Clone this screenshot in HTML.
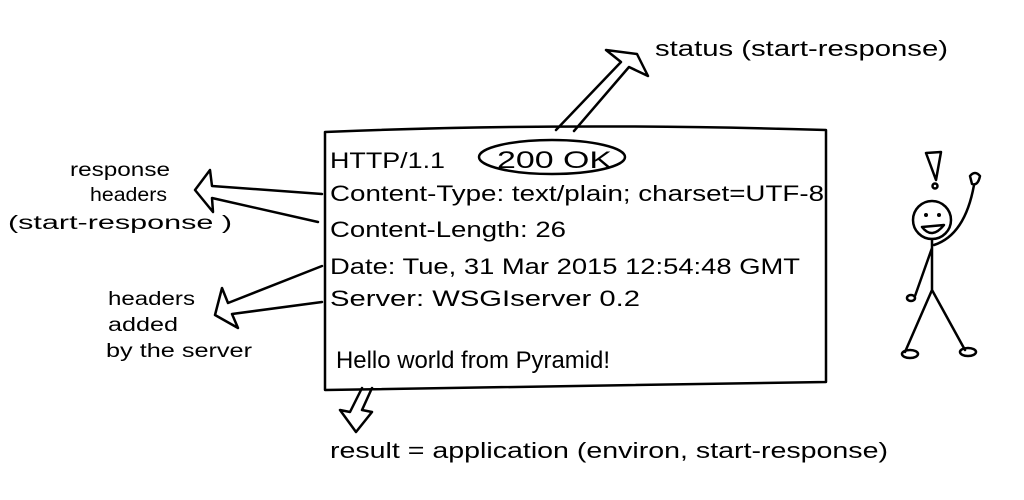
<!DOCTYPE html>
<html><head><style>
html,body{margin:0;padding:0;background:#fff;}
svg{display:block}
text{font-family:"Liberation Sans",sans-serif;fill:#000;}
</style></head><body>
<svg width="1024" height="500" viewBox="0 0 1024 500" xmlns="http://www.w3.org/2000/svg">
<g fill="none" stroke="#000" stroke-width="2.5" stroke-linecap="round" stroke-linejoin="round">
<path d="M325 132 Q560 122 826 130 L826 382 Q600 386 325 390 L325 132"/>
<path d="M556 130 L621 62 L606 50 L637 54 L648 76 L629 67 L574 131"/>
<ellipse cx="552" cy="157" rx="73" ry="17"/>
<path d="M322 194 L212 186 L210 170 L195 190 L213 212 L212 198 L318 222"/>
<path d="M322 266 L228 303 L222 288 L215 315 L238 328 L232 314 L322 302"/>
<path d="M372 388 L362 410 L372 412 L356 432 L340 410 L350 412 L362 388"/>
<circle cx="932" cy="220" r="19"/>
<path d="M932 239 L932 290 L905 352 M932 290 L965 350 M932 248 L915 296 M934 245 Q965 235 974 185"/>
<ellipse cx="910" cy="354" rx="8" ry="4"/>
<ellipse cx="968" cy="352" rx="8" ry="4"/>
<ellipse cx="911" cy="298" rx="4" ry="3"/>
<path d="M970 176 Q975 170 980 176 Q978 186 972 184 Z"/>
<path d="M926 153 L941 152 L936 180 Z"/>
<circle cx="935" cy="186" r="2.5"/>
<path d="M922 227 Q932 240 944 225 Z"/>
</g>
<circle cx="926" cy="215" r="2"/><circle cx="939" cy="215" r="2"/>
<g font-size="22" lengthAdjust="spacingAndGlyphs">
<text x="330" y="168" textLength="115" lengthAdjust="spacingAndGlyphs">HTTP/1.1</text>
<text x="497" y="168" textLength="115" lengthAdjust="spacingAndGlyphs" font-size="24">200  OK</text>
<text x="330" y="201" textLength="494" lengthAdjust="spacingAndGlyphs">Content-Type: text/plain; charset=UTF-8</text>
<text x="330" y="237" textLength="236" lengthAdjust="spacingAndGlyphs">Content-Length: 26</text>
<text x="330" y="274" textLength="470" lengthAdjust="spacingAndGlyphs">Date: Tue, 31 Mar 2015  12:54:48 GMT</text>
<text x="330" y="306" textLength="310" lengthAdjust="spacingAndGlyphs">Server: WSGIserver  0.2</text>
<text x="336" y="368" textLength="274" lengthAdjust="spacingAndGlyphs" font-size="24">Hello world from Pyramid!</text>
<text x="655" y="56" textLength="293" lengthAdjust="spacingAndGlyphs">status (start-response)</text>
<text x="330" y="458" textLength="558" lengthAdjust="spacingAndGlyphs">result = application (environ, start-response)</text>
<text x="70" y="176" textLength="100" lengthAdjust="spacingAndGlyphs" font-size="19">response</text>
<text x="90" y="201" textLength="77" lengthAdjust="spacingAndGlyphs" font-size="19">headers</text>
<text x="8" y="229" textLength="224" lengthAdjust="spacingAndGlyphs" font-size="19">(start-response )</text>
<text x="108" y="305" textLength="87" lengthAdjust="spacingAndGlyphs" font-size="19">headers</text>
<text x="108" y="331" textLength="70" lengthAdjust="spacingAndGlyphs" font-size="19">added</text>
<text x="106" y="357" textLength="146" lengthAdjust="spacingAndGlyphs" font-size="19">by the server</text>
</g>
</svg>
</body></html>
